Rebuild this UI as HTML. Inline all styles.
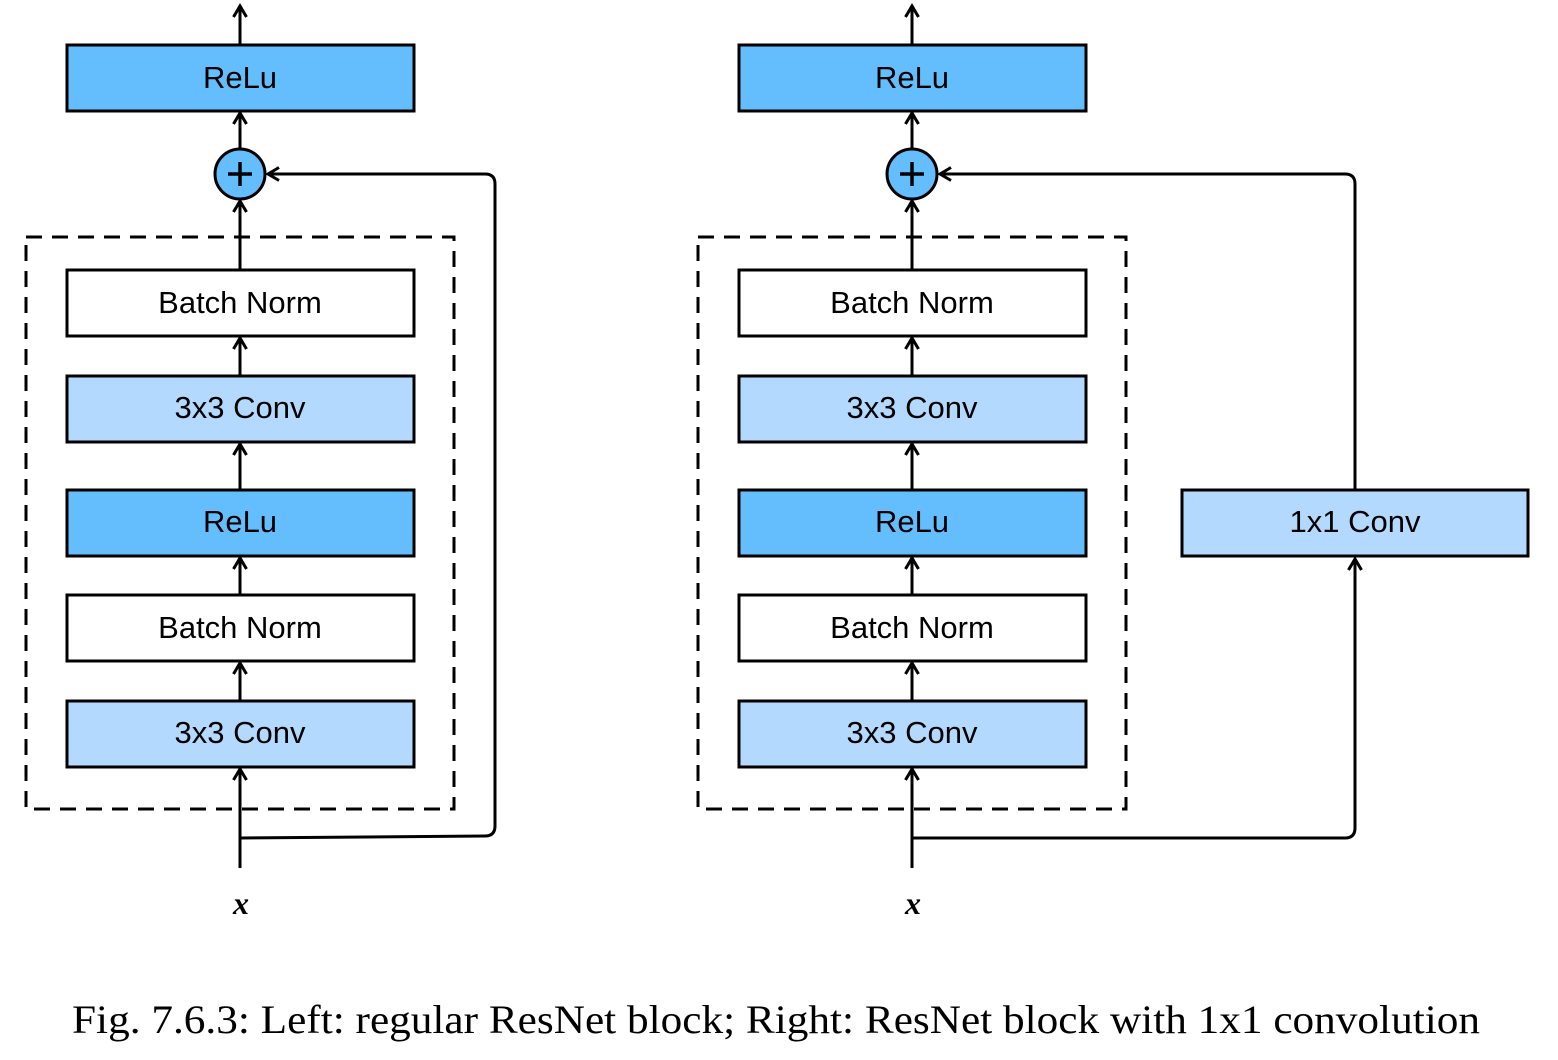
<!DOCTYPE html>
<html><head><style>body{margin:0;background:#fff}svg{display:block}</style></head><body>
<svg width="1558" height="1060" xmlns="http://www.w3.org/2000/svg">
<defs>
<marker id="a" markerWidth="16" markerHeight="16" refX="12" refY="8" orient="auto" markerUnits="userSpaceOnUse">
<path d="M1,1.5 L12,8 L1,14.5" fill="none" stroke="#000" stroke-width="3"/>
</marker>
</defs>
<g font-family="Liberation Sans, sans-serif" font-size="31" text-anchor="middle">
<g id="L">
<rect x="26" y="237" width="428" height="572" fill="none" stroke="#000" stroke-width="3" stroke-dasharray="16,10"/>
<g stroke="#000" stroke-width="3" fill="none">
<line x1="240" y1="45" x2="240" y2="6" marker-end="url(#a)"/>
<line x1="240" y1="149" x2="240" y2="113" marker-end="url(#a)"/>
<line x1="240" y1="270" x2="240" y2="201" marker-end="url(#a)"/>
<line x1="240" y1="376" x2="240" y2="338" marker-end="url(#a)"/>
<line x1="240" y1="490" x2="240" y2="444" marker-end="url(#a)"/>
<line x1="240" y1="595" x2="240" y2="558" marker-end="url(#a)"/>
<line x1="240" y1="701" x2="240" y2="663" marker-end="url(#a)"/>
<line x1="240" y1="868" x2="240" y2="769" marker-end="url(#a)"/>
</g>
<rect x="67" y="45" width="347" height="66" fill="#64bdfd" stroke="#000" stroke-width="3"/>
<text x="240" y="88">ReLu</text>
<rect x="67" y="270" width="347" height="66" fill="#fff" stroke="#000" stroke-width="3"/>
<text x="240" y="313">Batch Norm</text>
<rect x="67" y="376" width="347" height="66" fill="#b3dafe" stroke="#000" stroke-width="3"/>
<text x="240" y="418">3x3 Conv</text>
<rect x="67" y="490" width="347" height="66" fill="#64bdfd" stroke="#000" stroke-width="3"/>
<text x="240" y="532">ReLu</text>
<rect x="67" y="595" width="347" height="66" fill="#fff" stroke="#000" stroke-width="3"/>
<text x="240" y="638">Batch Norm</text>
<rect x="67" y="701" width="347" height="66" fill="#b3dafe" stroke="#000" stroke-width="3"/>
<text x="240" y="743">3x3 Conv</text>
<circle cx="240" cy="174" r="25" fill="#64bdfd" stroke="#000" stroke-width="3"/>
<path d="M228,174 H252 M240,162 V186" stroke="#000" stroke-width="3.5"/>
<text x="241" y="914" font-style="italic" font-weight="bold" font-family="Liberation Serif, serif" font-size="32">x</text>
</g>
<path d="M240,838 L485,836 Q495,836 495,826 L495,184 Q495,174 485,174 L268,174" fill="none" stroke="#000" stroke-width="3" marker-end="url(#a)"/>
<use href="#L" x="672"/>
<path d="M912,838 L1345,838 Q1355,838 1355,828 L1355,559" fill="none" stroke="#000" stroke-width="3" marker-end="url(#a)"/>
<path d="M1355,490 L1355,184 Q1355,174 1345,174 L940,174" fill="none" stroke="#000" stroke-width="3" marker-end="url(#a)"/>
<rect x="1182" y="490" width="346" height="66" fill="#b3dafe" stroke="#000" stroke-width="3"/>
<text x="1355" y="532">1x1 Conv</text>
</g>
<text x="776" y="1033" text-anchor="middle" font-family="Liberation Serif, serif" font-size="40" textLength="1408" lengthAdjust="spacingAndGlyphs">Fig. 7.6.3: Left: regular ResNet block; Right: ResNet block with 1x1 convolution</text>
</svg>
</body></html>
